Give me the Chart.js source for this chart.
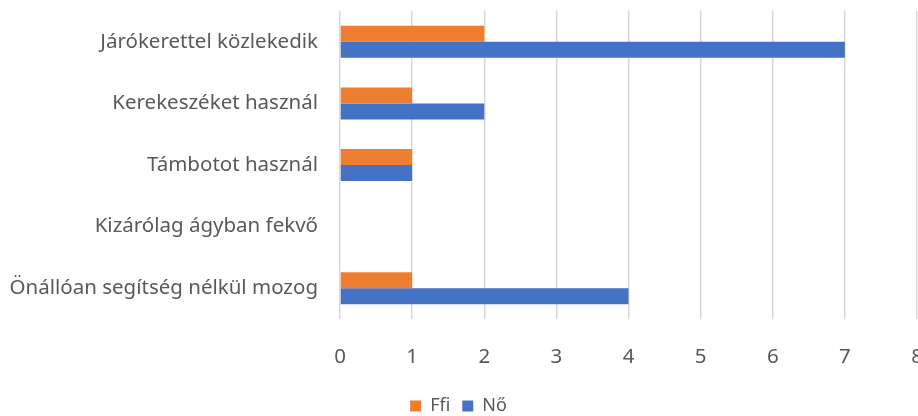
<!DOCTYPE html>
<html>
<head>
<meta charset="utf-8">
<script src="https://cdn.jsdelivr.net/npm/chart.js@4"></script>
<style>
  html, body { margin: 0; padding: 0; background: #fff; overflow: hidden; }
  #wrap { width: 918px; height: 425px; }
</style>
</head>
<body>
<div id="wrap"><canvas id="chart"></canvas></div>
<script>
const categories = [
    'Járókerettel közlekedik',
    'Kerekeszéket használ',
    'Támbotot használ',
    'Kizárólag ágyban fekvő',
    'Önállóan segítség nélkül mozog'
];
const ffiValues = [2, 1, 1, 0, 1];
const noValues = [7, 2, 1, 0, 4];
const xTicks = [0, 1, 2, 3, 4, 5, 6, 7, 8];

const font = { family: 'Noto Sans', size: 20.5 };
const legendFont = { family: 'Noto Sans', size: 18 };

new Chart(document.getElementById('chart'), {
    type: 'bar',
    data: {
        labels: categories,
        datasets: [
            { label: 'Ffi', data: ffiValues, backgroundColor: '#ED7D31' },
            { label: 'Nő', data: noValues, backgroundColor: '#4472C4' }
        ]
    },
    options: {
        indexAxis: 'y',
        responsive: true,
        maintainAspectRatio: false,
        animation: false,
        categoryPercentage: 0.52,
        barPercentage: 1,
        layout: { padding: { top: 11, left: 0, right: 1, bottom: 0 } },
        scales: {
            x: {
                min: xTicks[0],
                max: xTicks[xTicks.length - 1],
                afterBuildTicks: axis => { axis.ticks = xTicks.map(v => ({ value: v })); },
                afterFit: axis => { axis.paddingRight = 0; axis.paddingLeft = 0; axis.height = 66; },
                grid: { color: '#d9d9d9', lineWidth: 1.5, drawTicks: false },
                border: { display: false },
                ticks: { color: '#595959', font, padding: 26 }
            },
            y: {
                afterFit: axis => { axis.width = 340; axis.paddingTop = 0; axis.paddingBottom = 0; },
                grid: { display: false, drawTicks: false },
                border: { display: false },
                ticks: { color: '#595959', font, padding: 22 }
            }
        },
        plugins: {
            legend: {
                position: 'bottom',
                labels: { color: '#595959', font: legendFont, boxWidth: 11, boxHeight: 11, padding: 12 }
            },
            tooltip: { enabled: false }
        }
    }
});
</script>
</body>
</html>
